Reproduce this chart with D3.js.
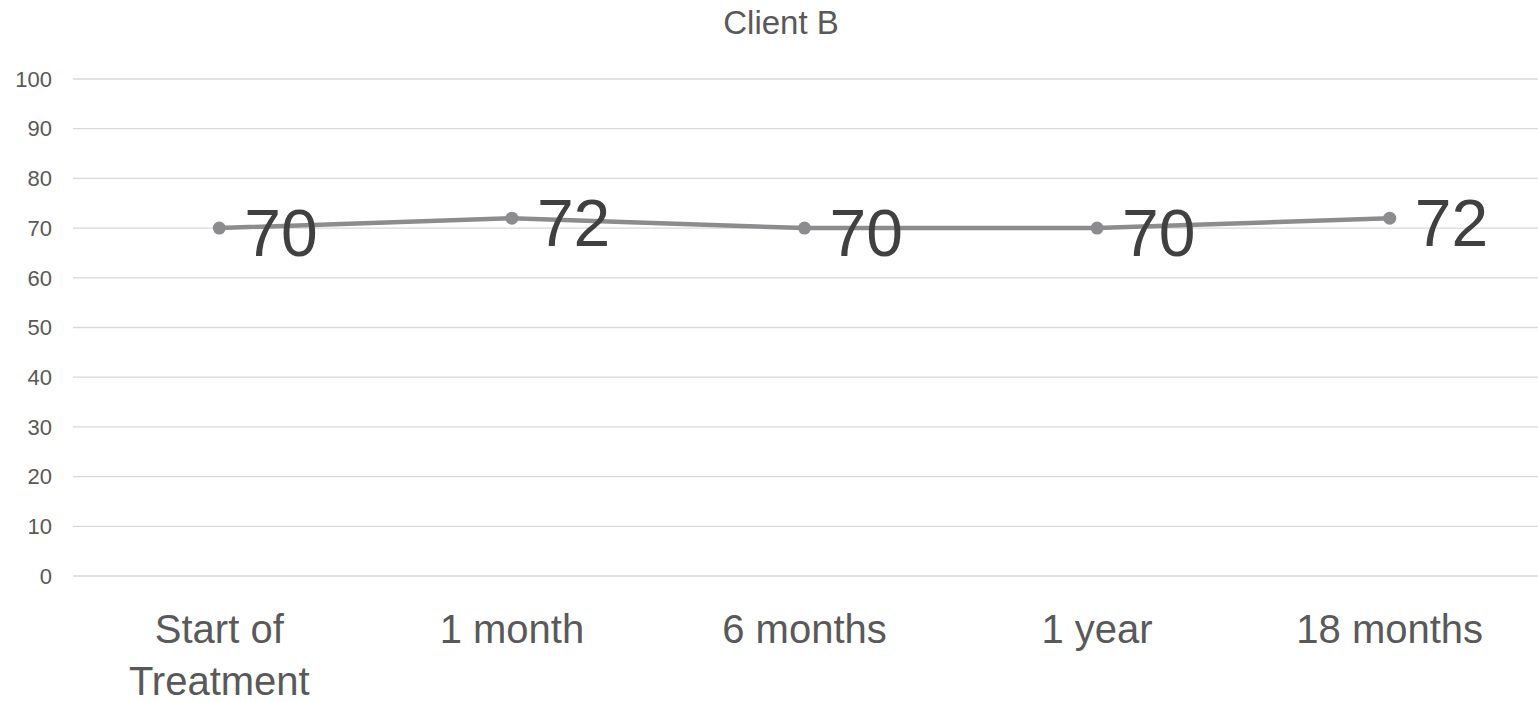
<!DOCTYPE html>
<html>
<meta charset=utf-8>
<head>
<style>
  body { margin: 0; background: #fff; }
  text { font-family: "Liberation Sans", Arial, sans-serif; }
</style>
</head>
<body>
<svg id="canvas" width="1538" height="702"></svg>
<script src="https://d3js.org/d3.v7.min.js"></script>
<script>
var categories = [['Start of', 'Treatment'], ['1 month'], ['6 months'], ['1 year'], ['18 months']];
var values = [70, 72, 70, 70, 72];
var yTicks = [0, 10, 20, 30, 40, 50, 60, 70, 80, 90, 100];
var title = 'Client B';

var svg = d3.select('#canvas');
var plotLeft = 73, plotRight = 1536, plotTop = 79, plotBottom = 576;

var x = d3.scaleBand()
  .domain(d3.range(categories.length))
  .range([plotLeft, plotRight]);

var y = d3.scaleLinear()
  .domain([0, 100])
  .range([plotBottom, plotTop]);

// gridlines
svg.append('g')
  .selectAll('line')
  .data(yTicks)
  .enter().append('line')
  .attr('x1', plotLeft)
  .attr('x2', 1538)
  .attr('y1', function(d) { return y(d) })
  .attr('y2', function(d) { return y(d) })
  .attr('stroke', '#d9d9d9')
  .attr('stroke-width', 1.3);

// y tick labels
svg.append('g')
  .selectAll('text')
  .data(yTicks)
  .enter().append('text')
  .attr('x', 52)
  .attr('y', function(d) { return y(d) })
  .attr('dy', '0.35em')
  .attr('text-anchor', 'end')
  .attr('font-size', 22)
  .attr('fill', '#595959')
  .text(function(d) { return d });

// title
svg.append('text')
  .attr('x', 781)
  .attr('y', 34)
  .attr('text-anchor', 'middle')
  .attr('font-size', 33)
  .attr('fill', '#595959')
  .text(title);

function cx(i) { return x(i) + x.bandwidth() / 2 }

// line
var line = d3.line()
  .x(function(d, i) { return cx(i) })
  .y(function(d) { return y(d) });

svg.append('path')
  .datum(values)
  .attr('d', line)
  .attr('fill', 'none')
  .attr('stroke', '#8c8c8f')
  .attr('stroke-width', 4.5)
  .attr('stroke-linejoin', 'round');

svg.append('g')
  .selectAll('circle')
  .data(values)
  .enter().append('circle')
  .attr('cx', function(d, i) { return cx(i) })
  .attr('cy', function(d) { return y(d) })
  .attr('r', 6.5)
  .attr('fill', '#8c8c8f');

// data labels
svg.append('g')
  .selectAll('text')
  .data(values)
  .enter().append('text')
  .attr('x', function(d, i) { return cx(i) + 25 })
  .attr('y', function(d) { return y(d) + 28 })
  .attr('font-size', 66)
  .attr('fill', '#404040')
  .text(function(d) { return d });

// x labels
var xl = svg.append('g')
  .selectAll('text')
  .data(categories)
  .enter().append('text')
  .attr('x', function(d, i) { return cx(i) })
  .attr('y', 643)
  .attr('text-anchor', 'middle')
  .attr('font-size', 40)
  .attr('fill', '#595959');

xl.selectAll('tspan')
  .data(function(d) { return d })
  .enter().append('tspan')
  .attr('x', function() { return d3.select(this.parentNode).attr('x') })
  .attr('dy', function(d, i) { return i ? 52 : 0 })
  .text(function(d) { return d });
</script>
</body>
</html>
